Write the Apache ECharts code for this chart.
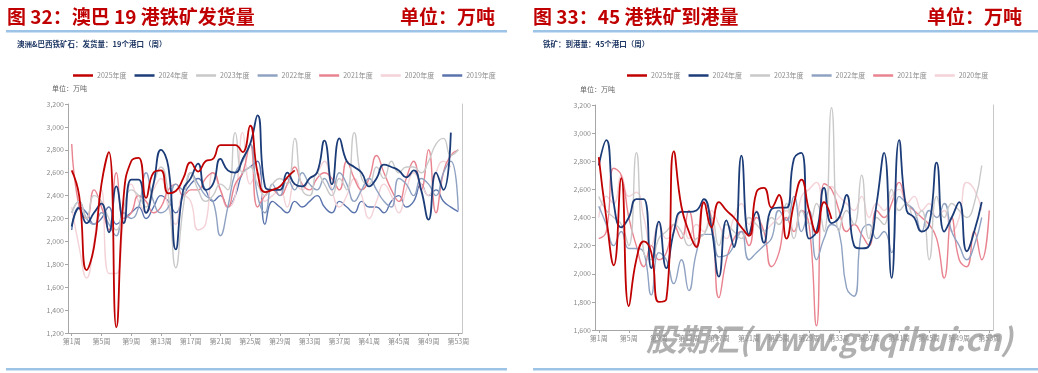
<!DOCTYPE html>
<html><head><meta charset="utf-8">
<script src="https://cdn.jsdelivr.net/npm/echarts@6/dist/echarts.min.js"></script>
<style>html,body{margin:0;padding:0;background:#fff}#c{width:1038px;height:373px}</style>
</head><body><div id="c"></div>
<script>
const weeks = ['第1周','第2周','第3周','第4周','第5周','第6周','第7周','第8周','第9周','第10周','第11周','第12周','第13周','第14周','第15周','第16周','第17周','第18周','第19周','第20周','第21周','第22周','第23周','第24周','第25周','第26周','第27周','第28周','第29周','第30周','第31周','第32周','第33周','第34周','第35周','第36周','第37周','第38周','第39周','第40周','第41周','第42周','第43周','第44周','第45周','第46周','第47周','第48周','第49周','第50周','第51周','第52周','第53周'];
const seriesNamesLeft = ['2025年度','2024年度','2023年度','2022年度','2021年度','2020年度','2019年度'];
const seriesNamesRight = ['2025年度','2024年度','2023年度','2022年度','2021年度','2020年度'];

// 图32 澳巴19港铁矿发货量（万吨）
const L2025 = [2620,2400,1750,1950,2500,2780,1250,2400,2700,2730,2380,2600,2620,2420,2440,2550,2690,2610,2700,2720,2840,2840,2840,2780,3010,2600,2430,2450,2480,2560,2620];
const L2024 = [2130,2290,2160,2250,2330,2080,2480,2160,2540,2540,2250,2500,2800,2650,1930,2450,2550,2680,2450,2500,2720,2620,2600,2720,2850,3100,2480,2450,2450,2600,2500,2480,2550,2600,2880,2500,2900,2700,2650,2600,2480,2550,2670,2650,2620,2560,2620,2450,2190,2600,2450,2950];
const L2023 = [2250,2350,2200,2400,2350,2200,2100,2300,2450,2400,2300,2500,2650,2400,1770,2300,2600,2450,2350,2400,2500,2450,2950,2600,2650,2500,2400,2500,2550,2500,2900,2450,2400,2600,2500,2400,2550,2450,2950,2550,2500,2650,2550,2700,2600,2650,2650,2600,2700,2850,2900,2750,2800];
const L2022 = [2250,2350,2200,2150,2250,2150,2050,2250,2200,2300,2600,2350,2250,2300,2500,2450,2600,2500,2400,2350,2050,2300,2600,2700,2850,2400,2250,2500,2400,2550,2450,2600,2500,2450,2550,2450,2600,2500,2350,2450,2550,2450,2350,2300,2550,2500,2400,2550,2500,2400,2600,2700,2270];
const L2021 = [2850,2300,2200,2450,2300,2100,2600,2200,2250,2400,2350,2250,2300,2450,2500,2400,2450,2450,2550,2600,2450,2300,2500,2600,2850,2300,2400,2450,2400,2500,2650,2500,2450,2550,2600,2550,2450,2700,2550,2450,2550,2750,2600,2450,2350,2550,2700,2450,2800,2250,2600,2750,2800];
const L2020 = [2300,1950,1680,2000,2450,1720,1720,2200,2500,2350,2250,2450,2550,2300,2150,2400,2350,2100,2150,2600,2450,2300,2400,2950,2500,2600,2350,2400,2450,2300,2500,2450,2550,2600,2700,2450,2300,2400,2550,2400,2200,2350,2500,2400,2250,2450,2600,2500,2400,2600,2700,2650];
const L2019 = [2100,2300,2250,2150,2200,2300,2150,2200,2250,2300,2200,2300,2400,2350,2250,2400,2500,2550,2450,2350,2400,2300,2400,2600,2650,2700,2150,2350,2300,2250,2350,2300,2350,2400,2300,2250,2350,2300,2250,2350,2300,2300,2250,2350,2400,2300,2350,2500,2400,2450,2350,2300,2260];

// 图33 45港铁矿到港量（万吨）
const R2025 = [2830,2400,2060,2680,1770,2100,2230,2150,1800,1820,2870,2480,2300,2190,2510,2330,2510,2450,2400,2330,2270,2580,2610,2470,2560,2250,2500,2670,2450,2290,2510,2390];
const R2024 = [2770,2950,2500,2330,2400,2530,2530,2040,2370,2040,2300,2440,2440,2450,2530,2330,1980,2380,2190,2840,2280,2440,2220,2460,2470,2470,2820,2860,2250,2300,2610,2360,2400,2560,2200,2180,2200,2500,2860,1970,2950,2450,2400,2300,2350,2790,2300,2400,2510,2160,2300,2510];
const R2023 = [2550,2450,2400,2350,2200,2860,2150,2100,2250,2300,2350,2300,2200,2250,2280,2400,2200,2350,2300,2250,2400,2350,2300,2400,2350,2500,2250,2450,2350,2500,2300,3180,2300,2450,2350,2700,2250,2400,2350,2600,2450,2500,2400,2450,2100,2550,2400,2500,2450,2400,2500,2770];
const R2022 = [2480,2350,2200,2300,2180,2180,2150,1850,2150,2100,1930,2100,1880,2150,2280,2280,2120,2130,2200,2300,2100,2150,2200,2250,2450,2380,2550,2300,2450,2100,2250,2350,2300,1900,1840,2300,2350,2250,2300,2150,2550,2500,2450,2300,2450,2400,2500,2300,2200,2100,2200,2400];
const R2021 = [2250,2300,2750,2700,2400,2200,2050,2200,2100,2150,2350,2250,2450,2200,2500,2400,1830,2100,2250,2300,2200,2400,2300,2050,2150,2400,2300,2450,2350,1630,2640,2600,2450,2300,2350,2280,2200,2450,2400,2500,2650,2500,2450,2400,2350,2250,1970,2400,2100,2050,2300,2100,2450];
const R2020 = [2400,2550,2500,2700,2550,2580,2400,2200,2350,2250,2300,2450,2250,2350,2300,2450,2350,2250,2400,2500,2350,2450,2300,2350,2400,2450,2300,2550,2600,2650,2500,2620,2550,2500,2450,2550,2400,2500,2450,2550,2600,2500,2550,2450,2500,2400,2450,2300,2400,2650,2600,2450];

const yTicksLeft = {min:1200, max:3200, interval:200};
const yTicksRight = {min:1600, max:3200, interval:200};

const colors = {'2025年度':'#c00000','2024年度':'#1b3c78','2023年度':'#c9c9c9','2022年度':'#8fa2c2','2021年度':'#e8838f','2020年度':'#f3d2d8','2019年度':'#5a73ad'};
const widths = {'2025年度':1.8,'2024年度':1.8,'2023年度':1.4,'2022年度':1.4,'2021年度':1.4,'2020年度':1.4,'2019年度':1.4};
const leftData = [L2025,L2024,L2023,L2022,L2021,L2020,L2019];
const rightData = [R2025,R2024,R2023,R2022,R2021,R2020];

const FONT = '"Noto Sans CJK SC", "Noto Sans", sans-serif';
const axisColor = '#a6a6a6';
const labelColor = '#8c8c8c';

function xAxis(gi){
  return {type:'category', gridIndex:gi, data:weeks, boundaryGap:true,
    axisLine:{lineStyle:{color:axisColor,width:1}},
    axisTick:{show:true, alignWithLabel:true, interval:3, length:3, lineStyle:{color:axisColor}},
    axisLabel:{interval:3, fontSize:7, color:labelColor, fontFamily:FONT, margin:5}};
}
function yAxis(gi, t){
  return {type:'value', gridIndex:gi, min:t.min, max:t.max, interval:t.interval,
    axisLine:{show:true, lineStyle:{color:axisColor}},
    axisTick:{show:true, length:3, lineStyle:{color:axisColor}},
    splitLine:{show:false},
    axisLabel:{fontSize:7, color:labelColor, fontFamily:FONT, margin:4,
      formatter:v=>v.toLocaleString('en-US')}};
}
function yRight(gi, t){
  return {type:'value', gridIndex:gi, position:'right', min:t.min, max:t.max, interval:t.interval,
    axisLine:{show:true, lineStyle:{color:'#c8c8c8'}}, axisTick:{show:false}, axisLabel:{show:false}, splitLine:{show:false}};
}

const series = [];
seriesNamesLeft.forEach((n,i)=>{
  series.push({name:n, type:'line', xAxisIndex:0, yAxisIndex:0, data:leftData[i], smooth:0.5, showSymbol:false,
    lineStyle:{color:colors[n], width:widths[n]}, itemStyle:{color:colors[n]}, z: 10 - i, connectNulls:false});
});
seriesNamesRight.forEach((n,i)=>{
  series.push({name:n, type:'line', xAxisIndex:1, yAxisIndex:2, data:rightData[i], smooth:0.5, showSymbol:false,
    lineStyle:{color:colors[n], width:widths[n]}, itemStyle:{color:colors[n]}, z: 10 - i});
});

const legendBase = {icon:'rect', itemWidth:20, itemHeight:2.5, itemGap:8,
  textStyle:{fontSize:7, color:labelColor, fontFamily:FONT, padding:[0,0,0,-1]}};

const red = '#c00000';
const option = {
  animation:false,
  textStyle:{fontFamily:FONT},
  grid:[{left:68, top:104, width:394, height:229},{left:595, top:105, width:398, height:225}],
  xAxis:[xAxis(0), xAxis(1)],
  yAxis:[yAxis(0,yTicksLeft), yRight(0,yTicksLeft), yAxis(1,yTicksRight), yRight(1,yTicksRight)],
  legend:[
    Object.assign({}, legendBase, {data:seriesNamesLeft, left:68, top:67}),
    Object.assign({}, legendBase, {data:seriesNamesRight, left:622, top:67})
  ],
  graphic:[
    {type:'text', left:7, top:7, style:{text:'图 32：澳巴 19 港铁矿发货量', fill:red, font:'bold 19px '+FONT}},
    {type:'text', right:543, top:7, style:{text:'单位：万吨', fill:red, font:'bold 19px '+FONT}},
    {type:'rect', shape:{x:6, y:30, width:501, height:2.5}, style:{fill:'#9dc3e6'}},
    {type:'text', left:17, top:40, style:{text:'澳洲&巴西铁矿石：发货量：19个港口（周）', fill:'#1f3864', font:'bold 7.5px '+FONT}},
    {type:'text', left:52, top:85, style:{text:'单位：万吨', fill:'#666', font:'7px '+FONT}},
    {type:'rect', shape:{x:6, y:368, width:501, height:2.5}, style:{fill:'#9dc3e6'}},

    {type:'text', left:533, top:7, style:{text:'图 33：45 港铁矿到港量', fill:red, font:'bold 19px '+FONT}},
    {type:'text', right:16, top:7, style:{text:'单位：万吨', fill:red, font:'bold 19px '+FONT}},
    {type:'rect', shape:{x:533, y:30, width:505, height:2.5}, style:{fill:'#9dc3e6'}},
    {type:'text', left:543, top:40, style:{text:'铁矿：到港量：45个港口（周）', fill:'#1f3864', font:'bold 7.5px '+FONT}},
    {type:'text', left:580, top:86, style:{text:'单位：万吨', fill:'#666', font:'7px '+FONT}},
    {type:'rect', shape:{x:533, y:368, width:505, height:2.5}, style:{fill:'#9dc3e6'}},

    {type:'text', left:646, top:324, z:100, style:{text:'股期汇(www.guqihui.cn)', fill:'rgba(150,150,150,0.75)', font:'italic bold 31px '+FONT}}
  ],
  series: series
};
const chart = echarts.init(document.getElementById('c'), null, {renderer:'canvas'});
chart.setOption(option);
</script></body></html>
